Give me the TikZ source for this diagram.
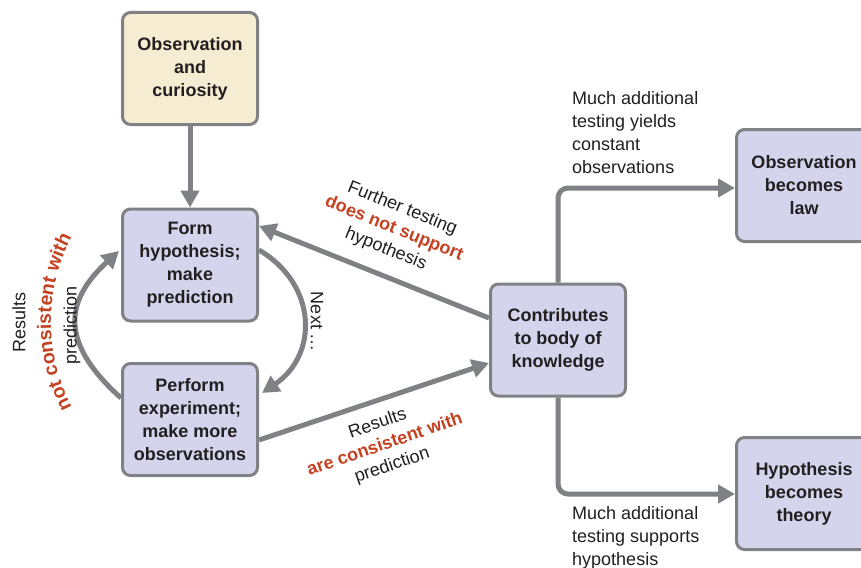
\documentclass[tikz,border=0pt]{standalone}
\usepackage{fontspec}
\setmainfont{Liberation Sans}
\usetikzlibrary{arrows.meta,calc,decorations.text}
\definecolor{linegray}{RGB}{128,129,133}
\definecolor{boxblue}{RGB}{212,213,236}
\definecolor{boxcream}{RGB}{246,236,210}
\definecolor{redtxt}{RGB}{196,66,34}
\definecolor{txt}{RGB}{35,31,32}
\tikzset{
  box/.style={draw=linegray, line width=3pt, rounded corners=8pt, fill=boxblue,
    minimum width=135pt, minimum height=112pt, align=center, text=txt,
    font=\fontsize{18}{23}\selectfont\bfseries, inner sep=2pt},
  creambox/.style={box, fill=boxcream},
  conn/.style={draw=linegray, line width=5pt, -{Triangle[length=17pt,width=18pt]}},
  lbl/.style={align=center, text=txt, font=\fontsize{18}{22}\selectfont, inner sep=0pt},
  lbll/.style={align=left, text=txt, font=\fontsize{18}{23}\selectfont, inner sep=0pt, anchor=north west},
}
\newcommand{\rd}[1]{\textcolor{redtxt}{\bfseries #1}}
\begin{document}
\begin{tikzpicture}[x=1pt,y=1pt]
\clip (0,0) rectangle (861,-567);
\fill[white] (0,0) rectangle (861,-567);
% boxes
\node[creambox] (obs) at (190,-68.5) {Observation\\and\\curiosity};
\node[box] (hyp) at (190,-265) {Form\\hypothesis;\\make\\prediction};
\node[box] (exp) at (190,-419.5) {Perform\\experiment;\\make more\\observations};
\node[box] (con) at (558,-340) {Contributes\\to body of\\knowledge};
\node[box] (law) at (804,-185.5) {Observation\\becomes\\law};
\node[box] (the) at (804,-493.5) {Hypothesis\\becomes\\theory};
% connectors
\draw[conn] (obs.south) -- (hyp.north);
\draw[conn] (con.west |- 0,-318) -- (hyp.east |- 0,-226);
\draw[conn] (exp.east |- 0,-440) -- (con.west |- 0,-363);
\draw[conn, rounded corners=10pt] (con.north) |- (law.west |- 0,-188);
\draw[conn, rounded corners=10pt] (con.south) |- (the.west |- 0,-494);
\coordinate (la) at (121,-398);
\coordinate (lb) at (119,-251);
\draw[conn] (la) .. controls (62,-345) and (62,-303) .. (lb);
\coordinate (ra) at (259,-250);
\coordinate (rb) at (262,-393);
\draw[conn] (ra) .. controls (318,-285) and (318,-355) .. (rb);
% labels
\node[lbll] (t1) at (572,-91) {Much additional\\testing yields\\constant\\observations};
\node[lbll] (t2) at (572,-506) {Much additional\\testing supports\\hypothesis};
\node[lbl, rotate=-22] (t3) at (394,-229) {Further testing\\\rd{does not support}\\hypothesis};
\node[lbl, rotate=19] (t4) at (385,-445) {Results\\\rd{are consistent with}\\prediction};
\node[lbl, rotate=90] (t5a) at (19,-322) {Results};
\node[lbl, rotate=90] (t5c) at (72,-325) {prediction};
\path[decorate, decoration={text along path, text align=center,
  text={|\fontsize{19.5}{22}\selectfont\bfseries\color{redtxt}|not consistent with}}]
  (236,-322) ++(215:185) arc[start angle=215, end angle=145, radius=185];
\node[lbl, rotate=-90] (t6) at (317,-322) {Next \dots};
\end{tikzpicture}
\end{document}
